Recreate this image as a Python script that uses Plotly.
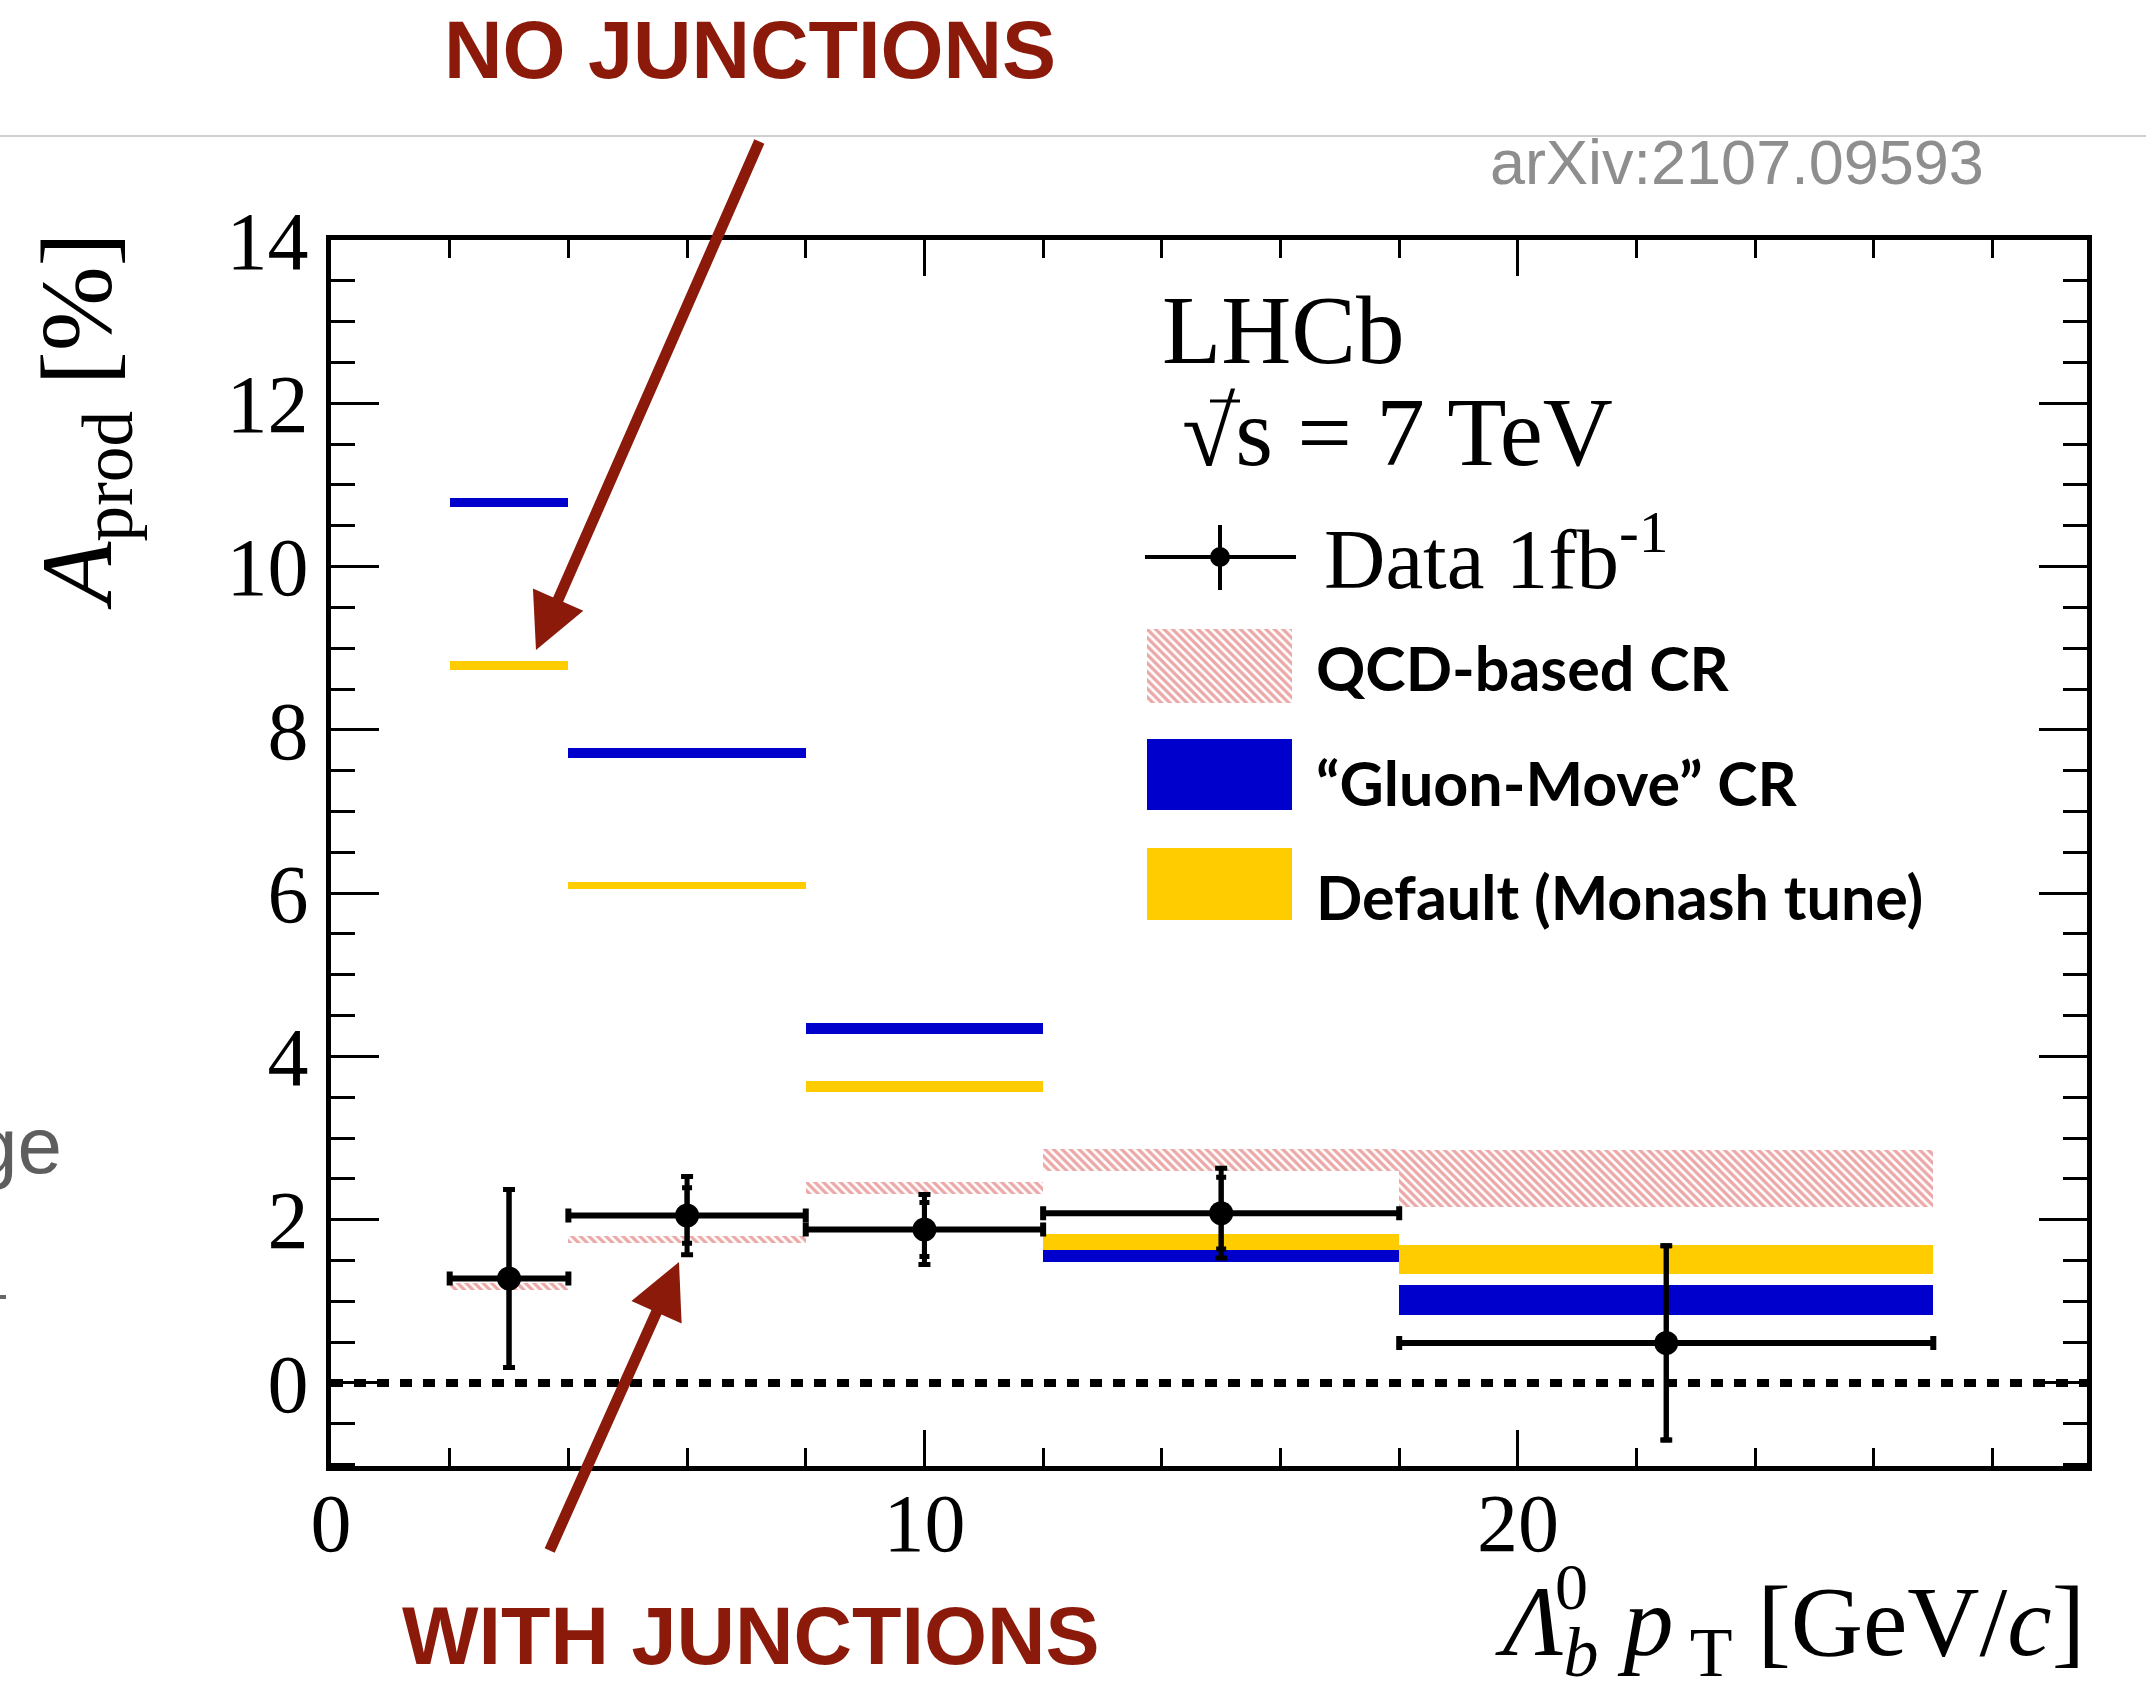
import plotly.graph_objects as go

# ---------------- data ----------------
bin_lo = [2, 4, 8, 12, 18]
bin_hi = [4, 8, 12, 18, 27]
data_val = [1.28, 2.05, 1.88, 2.08, 0.49]
data_err_tot = [1.09, 0.48, 0.43, 0.55, 1.19]
data_err_stat = [1.09, 0.34, 0.33, 0.44, 1.19]
qcd_lo = [1.14, 1.72, 2.32, 2.60, 2.16]
qcd_hi = [1.23, 1.80, 2.46, 2.87, 2.85]
gluon_lo = [10.73, 7.66, 4.27, 1.48, 0.83]
gluon_hi = [10.84, 7.78, 4.41, 1.63, 1.20]
monash_lo = [8.73, 6.05, 3.57, 1.63, 1.34]
monash_hi = [8.84, 6.14, 3.70, 1.82, 1.69]
x_tick_vals = [0, 10, 20]
y_tick_vals = [0, 2, 4, 6, 8, 10, 12, 14]
legend_labels = ["QCD-based CR", "\u201cGluon-Move\u201d CR", "Default (Monash tune)"]

# ---------------- styling / layout constants ----------------
W, H = 2146, 1695
ML, MR, MT, MB = 331, 59, 240, 229
PW, PH = W - ML - MR, H - MT - MB
X_RANGE = [0, 29.59]
Y_RANGE = [-1.017, 14.0]
BLUE = "#0000cc"
YELLOW = "#ffcc00"
HATCH = "#d95050"
DARKRED = "#8b1a0a"
SERIF = "Liberation Serif"
SANS = "Liberation Sans"


def fx(px):
    return (px - ML) / PW


def fy(py):
    return (H - MB - py) / PH


centers = [(a + b) / 2 for a, b in zip(bin_lo, bin_hi)]
widths = [b - a for a, b in zip(bin_lo, bin_hi)]
half_w = [w / 2 for w in widths]

fig = go.Figure()

hatch_pattern = dict(shape="\\", fgcolor=HATCH, size=6, solidity=0.55, fillmode="overlay")

fig.add_trace(go.Bar(
    x=centers, y=[h - l for l, h in zip(qcd_lo, qcd_hi)], base=qcd_lo, width=widths,
    marker=dict(color="rgba(255,255,255,0)", line=dict(width=0), pattern=hatch_pattern),
    name=legend_labels[0], showlegend=False, hoverinfo="skip"))
fig.add_trace(go.Bar(
    x=centers, y=[h - l for l, h in zip(gluon_lo, gluon_hi)], base=gluon_lo, width=widths,
    marker=dict(color=BLUE, line=dict(width=0)), name=legend_labels[1], showlegend=False))
fig.add_trace(go.Bar(
    x=centers, y=[h - l for l, h in zip(monash_lo, monash_hi)], base=monash_lo, width=widths,
    marker=dict(color=YELLOW, line=dict(width=0)), name=legend_labels[2], showlegend=False))

# data points: total uncertainty with bin-width bars
fig.add_trace(go.Scatter(
    x=centers, y=data_val, mode="markers",
    marker=dict(size=24, color="black"),
    error_x=dict(type="data", array=half_w, thickness=6, width=7, color="black"),
    error_y=dict(type="data", array=data_err_tot, thickness=5, width=6, color="black"),
    showlegend=False))
# statistical-only inner ticks
fig.add_trace(go.Scatter(
    x=centers, y=data_val, mode="markers",
    marker=dict(size=1, color="rgba(0,0,0,0)"),
    error_y=dict(type="data", array=data_err_stat, thickness=5, width=5, color="black"),
    showlegend=False, hoverinfo="skip"))

# hatched legend swatch drawn on a small helper axis pair
fig.add_trace(go.Bar(
    x=[0.5], y=[1], base=[0], width=[1], xaxis="x2", yaxis="y2",
    marker=dict(color="rgba(255,255,255,0)", line=dict(width=0), pattern=hatch_pattern),
    showlegend=False, hoverinfo="skip"))

axis_common = dict(showline=True, linewidth=5, linecolor="black", mirror="allticks",
                   ticks="inside", tickcolor="black", tickwidth=3, showgrid=False,
                   zeroline=False)

shapes = []
# dotted zero line
shapes.append(dict(type="line", xref="paper", x0=0, x1=1, yref="y", y0=0, y1=0,
                   line=dict(color="black", width=8, dash="12px,11px"), layer="below"))
# gray separator at top of slide
shapes.append(dict(type="line", xref="paper", x0=fx(0), x1=fx(W), yref="paper",
                   y0=fy(136), y1=fy(136), line=dict(color="#cfcfcf", width=2)))
# fragment on left edge
shapes.append(dict(type="line", xref="paper", x0=fx(0), x1=fx(6), yref="paper",
                   y0=fy(1297), y1=fy(1297), line=dict(color="#666666", width=4)))
# legend: data marker
shapes.append(dict(type="line", xref="paper", yref="paper", x0=fx(1145), x1=fx(1296),
                   y0=fy(557), y1=fy(557), line=dict(color="black", width=4)))
shapes.append(dict(type="line", xref="paper", yref="paper", x0=fx(1220), x1=fx(1220),
                   y0=fy(525), y1=fy(590), line=dict(color="black", width=4)))
shapes.append(dict(type="circle", xref="paper", yref="paper", x0=fx(1210), x1=fx(1230),
                   y0=fy(567), y1=fy(547), fillcolor="black", line=dict(width=0)))
# legend: solid swatches
shapes.append(dict(type="rect", xref="paper", yref="paper", x0=fx(1147), x1=fx(1292),
                   y0=fy(810), y1=fy(739), fillcolor=BLUE, line=dict(width=0)))
shapes.append(dict(type="rect", xref="paper", yref="paper", x0=fx(1147), x1=fx(1292),
                   y0=fy(920), y1=fy(848), fillcolor=YELLOW, line=dict(width=0)))
# overline of the square root
shapes.append(dict(type="line", xref="paper", yref="paper", x0=fx(1210), x1=fx(1240),
                   y0=fy(401), y1=fy(401), line=dict(color="black", width=3)))

ann = []


def text(t, x, y, size, family=SERIF, color="black", xanchor="left", yanchor="middle", **kw):
    ann.append(dict(text=t, x=x, y=y, xref="paper", yref="paper", showarrow=False,
                    xanchor=xanchor, yanchor=yanchor,
                    font=dict(family=family, size=size, color=color), **kw))


text("<i>A</i><sub>prod</sub> [%]", fx(84), fy(421), 102, xanchor="center", textangle=-90)
text("<i>\u039b</i><sub><i>b</i></sub> <i>p</i><sub> T</sub> [GeV/<i>c</i>]", 1.0, fy(1628), 100,
     xanchor="right")
text("0", fx(1571), fy(1586), 66, xanchor="center")
text("LHCb", fx(1160), fy(330), 97)
text("\u221as = 7 TeV", fx(1180), fy(432), 97)
text("Data 1fb<sup>-1</sup>", fx(1322), fy(552), 85)
for lab, yc in zip(legend_labels, [667, 782, 896]):
    text("<b>" + lab + "</b>", fx(1314), fy(yc), 61, family="Lato")
text("arXiv:2107.09593", fx(1986), fy(162), 63, family=SANS, color="#8e8e8e", xanchor="right")
text("<b>NO JUNCTIONS</b>", fx(750), fy(50), 81, family=SANS, color=DARKRED, xanchor="center")
text("<b>WITH JUNCTIONS</b>", fx(750), fy(1636), 81, family=SANS, color=DARKRED, xanchor="center")
text("ge", fx(64), fy(1145), 80, family=SANS, color="#5e5e5e", xanchor="right")

# arrows
ann.append(dict(text="", x=fx(536), y=fy(650), xref="paper", yref="paper", showarrow=True,
                ax=224, ay=-510, arrowhead=2, arrowsize=1.0, arrowwidth=11,
                arrowcolor=DARKRED, standoff=0))
ann.append(dict(text="", x=fx(679), y=fy(1262), xref="paper", yref="paper", showarrow=True,
                ax=-130, ay=290, arrowhead=2, arrowsize=1.0, arrowwidth=11,
                arrowcolor=DARKRED, standoff=0))

fig.update_layout(
    width=W, height=H,
    margin=dict(l=ML, r=MR, t=MT, b=MB, pad=0),
    paper_bgcolor="white", plot_bgcolor="white",
    barmode="overlay", bargap=0, showlegend=False,
    xaxis=dict(range=X_RANGE, tickvals=x_tick_vals, ticklen=36,
               minor=dict(dtick=2, tick0=0, ticks="inside", ticklen=18, tickwidth=3,
                          tickcolor="black", showgrid=False),
               tickfont=dict(family=SERIF, size=82, color="black"),
               ticklabelstandoff=-18, **axis_common),
    yaxis=dict(range=Y_RANGE, tickvals=y_tick_vals, ticklen=48,
               minor=dict(dtick=0.5, tick0=0, ticks="inside", ticklen=24, tickwidth=3,
                          tickcolor="black", showgrid=False),
               tickfont=dict(family=SERIF, size=82, color="black"),
               ticklabelstandoff=1, **axis_common),
    xaxis2=dict(domain=[fx(1147), fx(1292)], range=[0, 1], anchor="y2", visible=False),
    yaxis2=dict(domain=[fy(703), fy(629)], range=[0, 1], anchor="x2", visible=False),
    shapes=shapes,
    annotations=ann,
)

fig.write_html("out.html")
